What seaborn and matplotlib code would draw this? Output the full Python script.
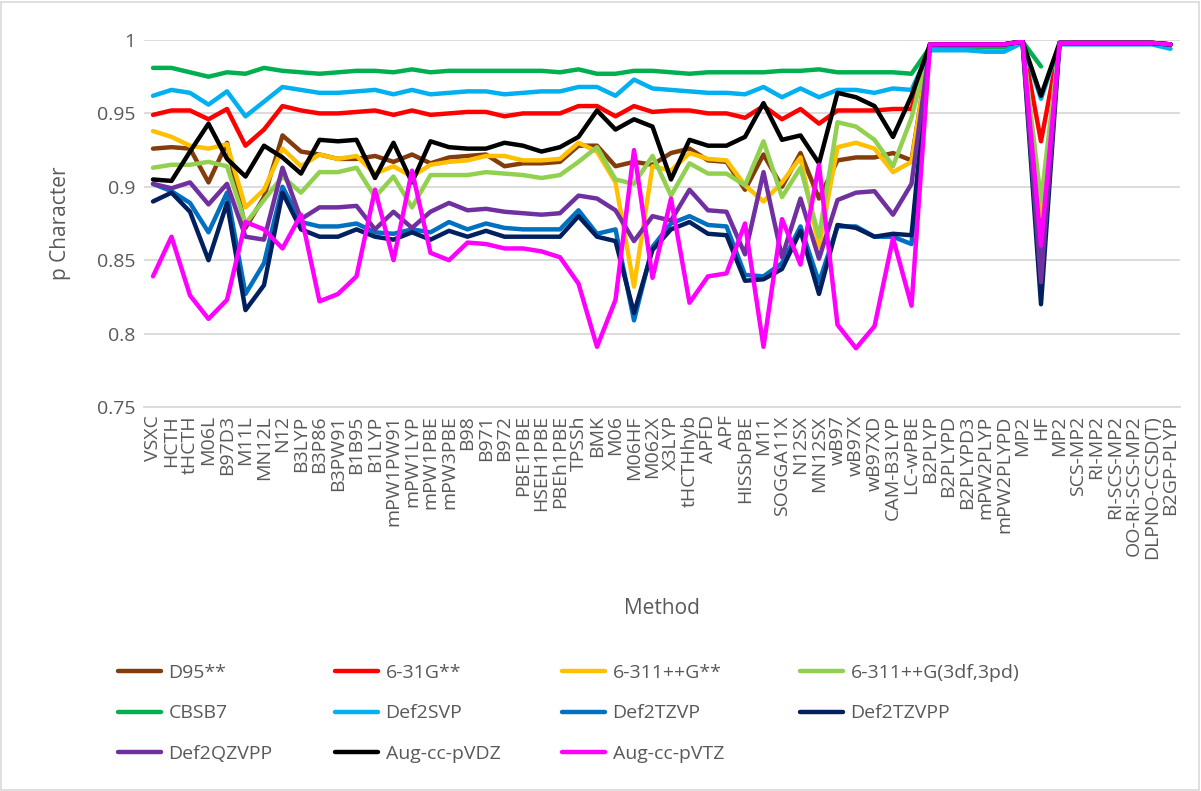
import numpy as np
import pandas as pd
import matplotlib
matplotlib.use("Agg")
import matplotlib.pyplot as plt
import seaborn as sns

methods = ["VSXC","HCTH","tHCTH","M06L","B97D3","M11L","MN12L","N12","B3LYP","B3P86",
           "B3PW91","B1B95","B1LYP","mPW1PW91","mPW1LYP","mPW1PBE","mPW3PBE","B98","B971","B972",
           "PBE1PBE","HSEH1PBE","PBEh1PBE","TPSSh","BMK","M06","M06HF","M062X","X3LYP","tHCTHhyb",
           "APFD","APF","HISSbPBE","M11","SOGGA11X","N12SX","MN12SX","wB97","wB97X","wB97XD",
           "CAM-B3LYP","LC-wPBE","B2PLYP","B2PLYPD","B2PLYPD3","mPW2PLYP","mPW2PLYPD","MP2","HF","MP2",
           "SCS-MP2","RI-MP2","RI-SCS-MP2","OO-RI-SCS-MP2","DLPNO-CCSD(T)","B2GP-PLYP"]

d95 = [0.926,0.927,0.926,0.903,0.930,0.872,0.893,0.935,0.924,0.922,
       0.919,0.919,0.921,0.917,0.922,0.916,0.920,0.921,0.922,0.914,
       0.916,0.916,0.917,0.928,0.928,0.914,0.917,0.915,0.923,0.926,
       0.918,0.917,0.898,0.922,0.900,0.923,0.892,0.918,0.920,0.920,
       0.923,0.918,0.997,0.997,0.997,0.997,0.997,0.999,0.870,0.998,
       0.998,0.998,0.998,0.998,0.998,0.997]
g631 = [0.949,0.952,0.952,0.946,0.953,0.928,0.939,0.955,0.952,0.950,
        0.950,0.951,0.952,0.949,0.952,0.949,0.950,0.951,0.951,0.948,
        0.950,0.950,0.950,0.955,0.955,0.948,0.955,0.951,0.952,0.952,
        0.950,0.950,0.947,0.955,0.946,0.953,0.943,0.952,0.952,0.952,
        0.953,0.953,0.997,0.997,0.997,0.997,0.997,0.999,0.931,0.998,
        0.998,0.998,0.998,0.998,0.998,0.997]
g6311 = [0.938,0.934,0.928,0.926,0.929,0.886,0.898,0.926,0.914,0.922,
         0.919,0.921,0.909,0.914,0.907,0.915,0.917,0.918,0.921,0.921,
         0.918,0.918,0.919,0.930,0.924,0.903,0.832,0.914,0.911,0.923,
         0.919,0.918,0.901,0.890,0.903,0.920,0.859,0.927,0.930,0.926,
         0.910,0.917,0.997,0.997,0.997,0.997,0.997,0.999,0.880,0.998,
         0.998,0.998,0.998,0.998,0.998,0.997]
g6311_3df = [0.913,0.915,0.915,0.917,0.914,0.875,0.891,0.907,0.896,0.910,
             0.910,0.913,0.893,0.907,0.886,0.908,0.908,0.908,0.910,0.909,
             0.908,0.906,0.908,0.917,0.927,0.905,0.902,0.921,0.894,0.916,
             0.909,0.909,0.901,0.931,0.893,0.913,0.866,0.944,0.941,0.932,
             0.914,0.947,0.997,0.997,0.997,0.997,0.997,0.999,0.890,0.998,
             0.998,0.998,0.998,0.998,0.998,0.997]
cbsb7 = [0.981,0.981,0.978,0.975,0.978,0.977,0.981,0.979,0.978,0.977,
         0.978,0.979,0.979,0.978,0.980,0.978,0.979,0.979,0.979,0.979,
         0.979,0.979,0.978,0.980,0.977,0.977,0.979,0.979,0.978,0.977,
         0.978,0.978,0.978,0.978,0.979,0.979,0.980,0.978,0.978,0.978,
         0.978,0.977,0.995,0.995,0.995,0.995,0.995,0.999,0.982,np.nan,
         np.nan,np.nan,np.nan,np.nan,np.nan,np.nan]
def2svp = [0.962,0.966,0.964,0.956,0.965,0.948,0.958,0.968,0.966,0.964,
           0.964,0.965,0.966,0.963,0.966,0.963,0.964,0.965,0.965,0.963,
           0.964,0.965,0.965,0.968,0.968,0.962,0.973,0.967,0.966,0.965,
           0.964,0.964,0.963,0.968,0.961,0.967,0.961,0.966,0.966,0.964,
           0.967,0.966,0.993,0.993,0.993,0.992,0.992,0.998,0.960,0.997,
           0.997,0.997,0.997,0.997,0.997,0.994]
def2tzvp = [0.902,0.897,0.889,0.869,0.896,0.827,0.848,0.900,0.876,0.873,
            0.873,0.875,0.869,0.868,0.871,0.869,0.876,0.871,0.875,0.872,
            0.871,0.871,0.871,0.884,0.868,0.871,0.809,0.859,0.875,0.880,
            0.874,0.873,0.840,0.839,0.848,0.873,0.835,0.873,0.873,0.866,
            0.866,0.861,0.997,0.997,0.997,0.997,0.997,0.999,0.845,0.998,
            0.998,0.998,0.998,0.998,0.998,0.997]
def2tzvpp = [0.890,0.896,0.883,0.850,0.889,0.816,0.833,0.896,0.871,0.866,
             0.866,0.871,0.866,0.864,0.869,0.864,0.870,0.866,0.870,0.866,
             0.866,0.866,0.866,0.880,0.866,0.863,0.814,0.857,0.871,0.876,
             0.868,0.867,0.836,0.837,0.844,0.870,0.827,0.874,0.872,0.866,
             0.868,0.867,0.997,0.997,0.997,0.997,0.997,0.999,0.820,0.998,
             0.998,0.998,0.998,0.998,0.998,0.997]
def2qzvpp = [0.902,0.899,0.903,0.888,0.902,0.866,0.864,0.913,0.878,0.886,
             0.886,0.887,0.871,0.883,0.872,0.883,0.889,0.884,0.885,0.883,
             0.882,0.881,0.882,0.894,0.892,0.884,0.863,0.880,0.877,0.898,
             0.884,0.883,0.854,0.910,0.852,0.892,0.851,0.891,0.896,0.897,
             0.881,0.902,0.997,0.997,0.997,0.997,0.997,0.999,0.835,0.998,
             0.998,0.998,0.998,0.998,0.998,0.997]
aug_dz = [0.905,0.904,0.924,0.943,0.919,0.907,0.928,0.920,0.909,0.932,
          0.931,0.932,0.906,0.930,0.903,0.931,0.927,0.926,0.926,0.930,
          0.928,0.924,0.927,0.934,0.952,0.939,0.946,0.941,0.905,0.932,
          0.928,0.928,0.934,0.957,0.932,0.935,0.916,0.964,0.961,0.955,
          0.934,0.962,0.997,0.997,0.997,0.997,0.997,0.999,0.962,0.998,
          0.998,0.998,0.998,0.998,0.998,0.997]
aug_tz = [0.839,0.866,0.826,0.810,0.823,0.876,0.871,0.858,0.881,0.822,
          0.827,0.839,0.898,0.850,0.911,0.855,0.850,0.862,0.861,0.858,
          0.858,0.856,0.852,0.834,0.791,0.823,0.925,0.838,0.892,0.821,
          0.839,0.841,0.875,0.791,0.878,0.847,0.915,0.806,0.790,0.805,
          0.865,0.819,0.997,0.997,0.997,0.997,0.997,0.999,0.860,0.998,
          0.998,0.998,0.998,0.998,0.998,0.997]

series_names = ["D95**","6-31G**","6-311++G**","6-311++G(3df,3pd)","CBSB7","Def2SVP",
                "Def2TZVP","Def2TZVPP","Def2QZVPP","Aug-cc-pVDZ","Aug-cc-pVTZ"]
series_values = [d95,g631,g6311,g6311_3df,cbsb7,def2svp,def2tzvp,def2tzvpp,def2qzvpp,aug_dz,aug_tz]
colors = ["#843C0C","#FF0000","#FFC000","#92D050","#00B050","#00B0F0",
          "#0070C0","#002060","#7030A0","#000000","#FF00FF"]

sns.set_theme(style="white")
plt.rcParams['font.family'] = ['Open Sans', 'DejaVu Sans']

rows = []
for name, vals in zip(series_names, series_values):
    for i, v in enumerate(vals):
        if not np.isnan(v):
            rows.append({"pos": i, "value": v, "series": name})
df = pd.DataFrame(rows)

W, H = 1201, 791
fig = plt.figure(figsize=(W/100, H/100), dpi=100)
ax = fig.add_axes([143.75/W, 1-407/H, 1036/W, 367/H])

sns.lineplot(data=df, x="pos", y="value", hue="series", hue_order=series_names,
             palette=dict(zip(series_names, colors)), linewidth=3.2, ax=ax,
             estimator=None, sort=True, legend=True)

ax.set_xlim(-0.5, len(methods)-0.5)
ax.set_ylim(0.75, 1.0)
ax.set_yticks([0.75,0.8,0.85,0.9,0.95,1.0])
ax.set_yticklabels(["0.75","0.8","0.85","0.9","0.95","1"])
ax.set_xticks(range(len(methods)))
ax.set_xticklabels(methods, rotation=90)
ax.tick_params(axis="both", length=0, labelsize=14, labelcolor="#595959", pad=6)
ax.yaxis.grid(True, color="#D9D9D9", linewidth=1.3)
ax.set_axisbelow(True)
for s in ["top","right","left"]:
    ax.spines[s].set_visible(False)
ax.spines["bottom"].set_color("#D9D9D9")
ax.spines["bottom"].set_linewidth(1.3)
ax.set_xlabel("Method", fontsize=15, color="#595959")
ax.set_ylabel("p Character", fontsize=15, color="#595959")
ax.xaxis.set_label_coords(0.5, -0.52)
ax.yaxis.set_label_coords(-0.07, 0.5)

handles, labels = ax.get_legend_handles_labels()
ax.get_legend().remove()
columns = [[0,4,8],[1,5,9],[2,6,10],[3,7]]
col_x = [118, 335, 562, 800]
for cols, x0 in zip(columns, col_x):
    leg = fig.legend([handles[i] for i in cols], [labels[i] for i in cols],
                     ncol=1, loc="upper left", bbox_to_anchor=(x0/W, 1-664/H),
                     frameon=False, fontsize=14, handlelength=2.2, handletextpad=0.4,
                     labelspacing=1.15, borderpad=0, borderaxespad=0,
                     labelcolor="#595959")
    for h in leg.legend_handles:
        h.set_linewidth(3.2)

fig.patches.append(plt.Rectangle((0.001, 0.001), 0.997, 0.997, transform=fig.transFigure,
                                 fill=False, edgecolor="#D9D9D9", linewidth=1.2))

fig.savefig("out.png", dpi=100)
